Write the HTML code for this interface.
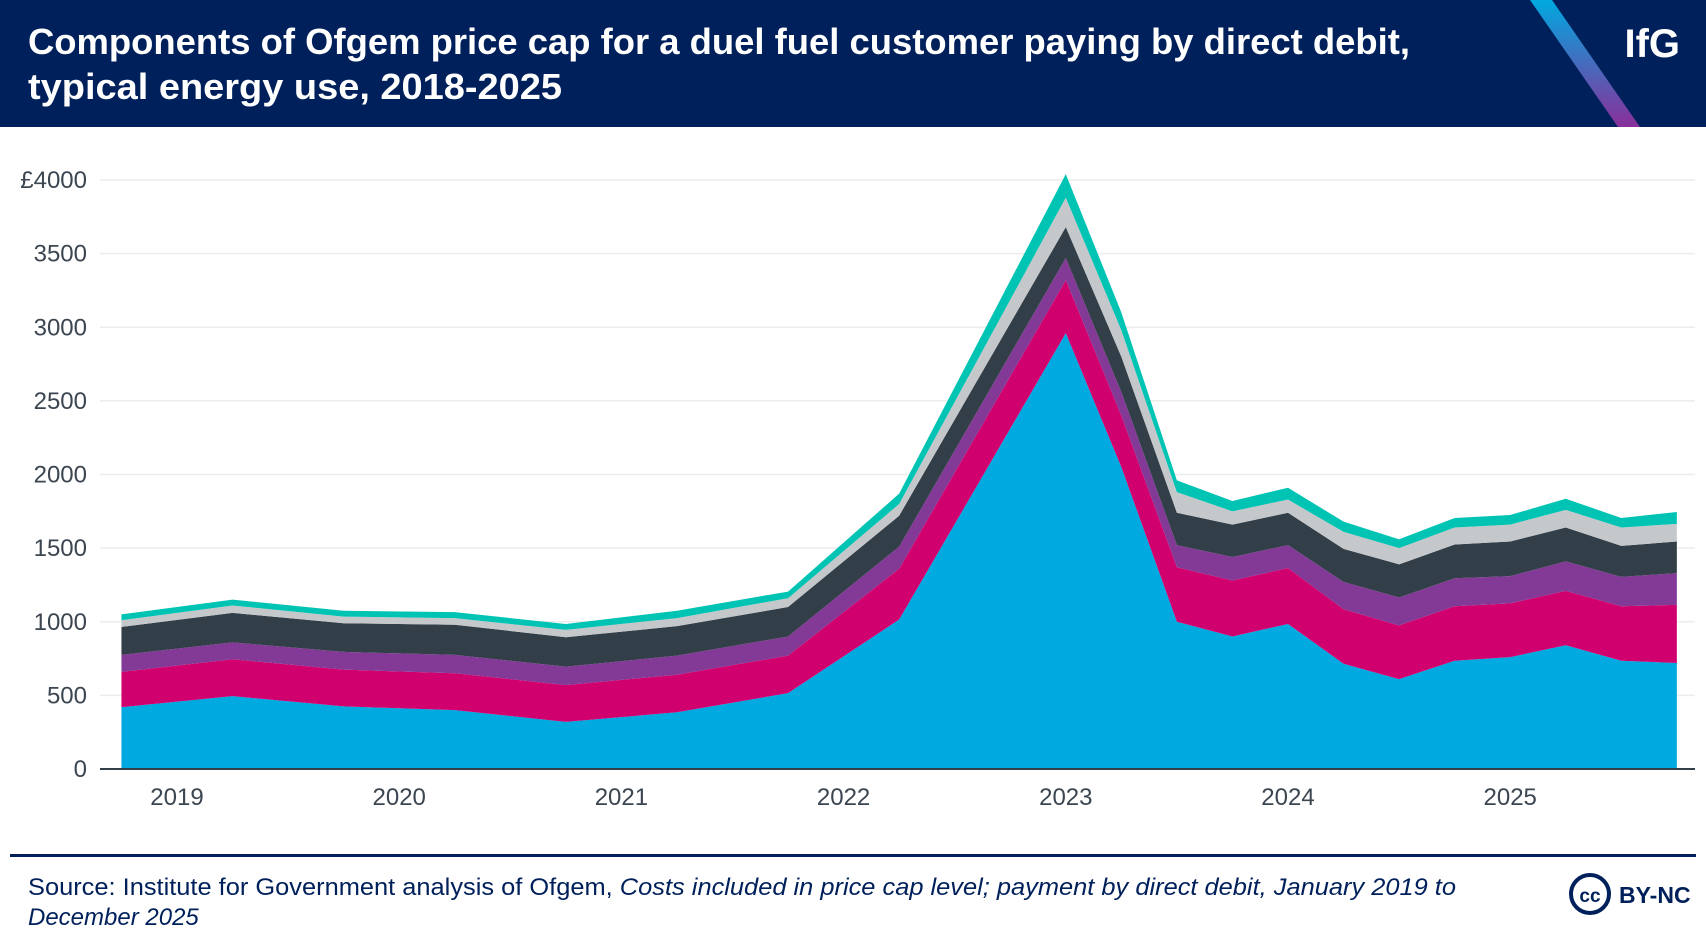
<!DOCTYPE html>
<html><head><meta charset="utf-8"><style>
html,body{margin:0;padding:0;background:#fff;}
svg{display:block;font-family:"Liberation Sans","DejaVu Sans",sans-serif;}
</style></head><body>
<svg width="1706" height="946" viewBox="0 0 1706 946">
<defs><linearGradient id="g" x1="0" y1="0" x2="0" y2="1"><stop offset="0" stop-color="#00a9e0"/><stop offset="1" stop-color="#8a2f9a"/></linearGradient></defs>
<rect x="0" y="0" width="1706" height="127" fill="#00205b"/>
<text x="28" y="54" fill="#fff" font-size="36" font-weight="bold" textLength="1382" lengthAdjust="spacingAndGlyphs">Components of Ofgem price cap for a duel fuel customer paying by direct debit,</text>
<text x="28" y="99" fill="#fff" font-size="36" font-weight="bold" textLength="534" lengthAdjust="spacingAndGlyphs">typical energy use, 2018-2025</text>
<polygon points="1530,0 1552,0 1640,127 1618,127" fill="url(#g)"/>
<text x="1680" y="57" fill="#fff" font-size="40" font-weight="bold" text-anchor="end">IfG</text>
<g id="grid"></g>
<g id="areas"></g>
<line x1="100" y1="769" x2="1695" y2="769" stroke="#333f48" stroke-width="2"/>
<g id="yt"></g><g id="xt"></g>
<rect x="10" y="854" width="1686" height="3" fill="#00205b"/>
<text x="28" y="895" fill="#00205b" font-size="24" textLength="1428" lengthAdjust="spacingAndGlyphs">Source: Institute for Government analysis of Ofgem, <tspan font-style="italic">Costs included in price cap level; payment by direct debit, January 2019 to</tspan></text>
<text x="28" y="925" fill="#00205b" font-size="24" font-style="italic">December 2025</text>
<g><circle cx="1590" cy="894" r="19" fill="none" stroke="#00205b" stroke-width="4"/><text x="1590" y="902" text-anchor="middle" fill="#00205b" font-size="19" font-weight="bold">cc</text><text x="1619" y="903" fill="#00205b" font-size="23" font-weight="bold">BY-NC</text></g>
</svg>
<script>
const dates=[2018.75,2019.25,2019.75,2020.25,2020.75,2021.25,2021.75,2022.25,2023.0,2023.25,2023.5,2023.75,2024.0,2024.25,2024.5,2024.75,2025.0,2025.25,2025.5,2025.75];
const wholesale=[420,495,425,400,320,385,515,1015,2960,2050,1000,900,985,715,610,735,760,840,735,720];
const network=[240,250,250,250,250,255,255,345,360,350,370,380,380,370,365,370,365,370,370,395];
const policy=[115,115,120,125,125,130,130,150,150,160,150,160,155,185,190,190,185,200,200,215];
const operating=[190,200,195,205,200,200,200,210,210,240,220,220,220,225,225,230,235,230,210,215];
const other=[45,50,45,45,50,55,60,80,200,180,140,90,90,115,110,115,115,120,125,120];
const headroom=[40,40,40,40,40,50,45,70,160,120,80,70,80,70,60,65,65,75,65,80];
const yTicks=[0,500,1000,1500,2000,2500,3000,3500,4000];
const xYears=[2019,2020,2021,2022,2023,2024,2025];
const series=[wholesale,network,policy,operating,other,headroom];
const names=['wholesale-area','network-area','policy-area','operating-area','other-costs-area','headroom-area'];
const colors=['#00a9e0','#d1006f','#833a97','#333f48','#c5c8cb','#00c4b3'];
const NS='http://www.w3.org/2000/svg';
const X=t=>177+(t-2019)*222.2;
const Y=v=>769-v*589/4000;
const grid=document.getElementById('grid'),yt=document.getElementById('yt'),xt=document.getElementById('xt'),areas=document.getElementById('areas');
yTicks.forEach(v=>{
  if(v>0){const l=document.createElementNS(NS,'line');
  l.setAttribute('x1',100);l.setAttribute('x2',1695);l.setAttribute('y1',Y(v));l.setAttribute('y2',Y(v));
  l.setAttribute('stroke','#ececec');l.setAttribute('stroke-width','1.5');
  
  
  grid.appendChild(l);}
  const t=document.createElementNS(NS,'text');
  t.setAttribute('x',87);t.setAttribute('y',Y(v)+8);t.setAttribute('text-anchor','end');
  t.setAttribute('font-size','24');t.setAttribute('fill','#3c4650');
  t.textContent=(v===4000?'£':'')+v;
  
  
  yt.appendChild(t);
});
xYears.forEach(y=>{
  const t=document.createElementNS(NS,'text');
  t.setAttribute('x',X(y));t.setAttribute('y',805);t.setAttribute('text-anchor','middle');
  t.setAttribute('font-size','24');t.setAttribute('fill','#3c4650');
  t.textContent=y;
  
  
  xt.appendChild(t);
});
let base=dates.map(()=>0);
series.forEach((s,i)=>{
  const top=base.map((b,j)=>b+s[j]);
  let d='M'+dates.map((t,j)=>X(t)+','+Y(top[j])).join('L');
  for(let j=dates.length-1;j>=0;j--) d+='L'+X(dates[j])+','+Y(base[j]);
  d+='Z';
  const p=document.createElementNS(NS,'path');
  p.setAttribute('d',d);p.setAttribute('fill',colors[i]);
  
  
  areas.appendChild(p);
  base=top;
});
</script>
</body></html>
